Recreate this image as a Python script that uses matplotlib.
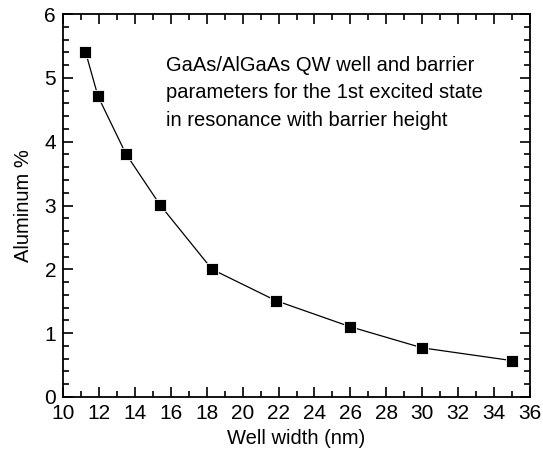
import matplotlib.pyplot as plt
from matplotlib.ticker import MultipleLocator

plt.rcParams['font.family'] = ['Liberation Sans', 'DejaVu Sans']

well_width = [11.25, 11.95, 13.5, 15.4, 18.3, 21.85, 26.0, 30.0, 35.0]
aluminum = [5.41, 4.71, 3.81, 3.01, 2.0, 1.51, 1.1, 0.77, 0.57]

fig = plt.figure(figsize=(5.43, 4.55), dpi=100)
ax = fig.add_axes([63 / 543, 1 - 397 / 455, 467 / 543, 383 / 455])

ax.plot(well_width, aluminum, color='black', linewidth=0.9,
        marker='s', markersize=9, markerfacecolor='black',
        markeredgecolor='white', markeredgewidth=0.6)

ax.set_xlim(10, 36)
ax.set_ylim(0, 6)
ax.xaxis.set_major_locator(MultipleLocator(2))
ax.xaxis.set_minor_locator(MultipleLocator(1))
ax.yaxis.set_major_locator(MultipleLocator(1))
ax.yaxis.set_minor_locator(MultipleLocator(0.2))
ax.tick_params(which='both', direction='in', top=True, right=True,
               width=1.2, labelsize=15)
ax.tick_params(which='major', length=7, pad=5)
ax.tick_params(which='minor', length=4)
for s in ax.spines.values():
    s.set_linewidth(1.3)

ax.set_xlabel('Well width (nm)', fontsize=14.5, labelpad=4)
ax.set_ylabel('Aluminum %', fontsize=14.5, labelpad=8)

ax.text(0.22, 0.89,
        'GaAs/AlGaAs QW well and barrier\n'
        'parameters for the 1st excited state\n'
        'in resonance with barrier height',
        transform=ax.transAxes, fontsize=14.5, va='top', ha='left',
        linespacing=1.55)

fig.savefig('out.png', dpi=100)
